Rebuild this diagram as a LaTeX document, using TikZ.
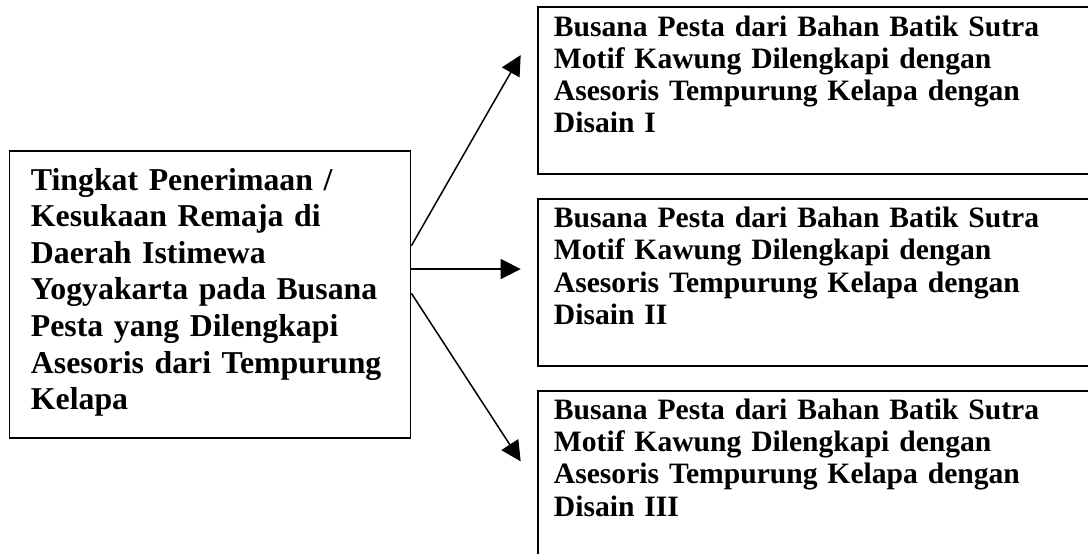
\documentclass[tikz,border=0pt]{standalone}
\usepackage{fontspec}
\setmainfont{Liberation Serif}
\usetikzlibrary{arrows.meta,calc}
\begin{document}
\begin{tikzpicture}[x=1pt,y=-1pt,
  boxline/.style={draw=black,line width=1.9pt},
  leftbox/.style={boxline,anchor=base west,align=left,
    inner xsep=21.5pt,inner ysep=0pt,text width=358pt,
    minimum width=401pt,minimum height=287.6pt,
    text height=10pt,text depth=219pt,
    font=\fontsize{31.8}{36.6}\selectfont\bfseries},
  rightbox/.style={boxline,anchor=base west,align=left,
    inner xsep=16.3pt,inner ysep=0pt,text width=560pt,
    minimum width=592.6pt,minimum height=167pt,
    text height=10pt,text depth=119.6pt,
    font=\fontsize{29.6}{32.2}\selectfont\bfseries},
  conn/.style={line width=1.5pt,-{Triangle[length=20pt 0 0,width=20pt 0 0]}}]
\useasboundingbox (0,0) rectangle (1088,554);
\clip (0,0) rectangle (1088,554);
\node[leftbox] (L) at (8.5,190) {Tingkat Penerimaan /\\Kesukaan Remaja di\\Daerah Istimewa\\Yogyakarta pada Busana\\Pesta yang Dilengkapi\\Asesoris dari Tempurung\\Kelapa};
\node[rightbox] (R1) at (536.7,36) {Busana Pesta dari Bahan Batik Sutra\\Motif Kawung Dilengkapi dengan\\Asesoris Tempurung Kelapa dengan\\Disain I};
\node[rightbox] (R2) at (536.7,227.7) {Busana Pesta dari Bahan Batik Sutra\\Motif Kawung Dilengkapi dengan\\Asesoris Tempurung Kelapa dengan\\Disain II};
\node[rightbox] (R3) at (536.7,419.4) {Busana Pesta dari Bahan Batik Sutra\\Motif Kawung Dilengkapi dengan\\Asesoris Tempurung Kelapa dengan\\Disain III};
\coordinate (s1) at ($(L.north east)+(0,96)$);
\coordinate (s2) at ($(L.north east)+(0,119.3)$);
\coordinate (s3) at ($(L.north east)+(0,143.6)$);
\coordinate (t1) at ($(R1.north west)+(-16,48.7)$);
\coordinate (t2) at ($(R2.north west)+(-16,71)$);
\coordinate (t3) at ($(R3.north west)+(-16,71.6)$);
\draw[conn] (s1) -- (t1);
\draw[conn] (s2) -- (t2);
\draw[conn] (s3) -- (t3);
\end{tikzpicture}
\end{document}
